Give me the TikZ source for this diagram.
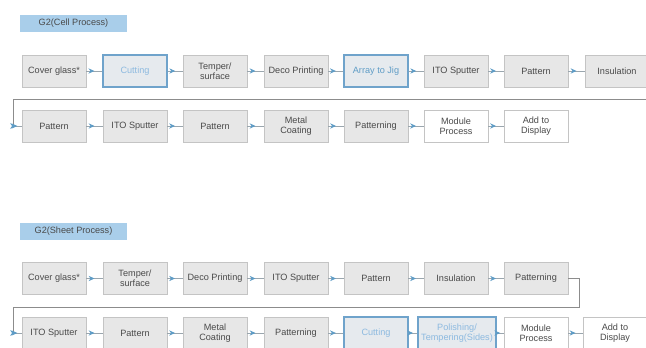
\documentclass[tikz,border=0pt]{standalone}
\usepackage{fontspec}
\setmainfont{Liberation Sans}
\usetikzlibrary{arrows.meta,decorations.markings}
\definecolor{boxgray}{HTML}{E7E7E7}
\definecolor{boxline}{HTML}{C4C4C4}
\definecolor{hiline}{HTML}{6FA3CB}
\definecolor{hifill}{HTML}{E6EAEE}
\definecolor{hitext}{HTML}{8DBAE0}
\definecolor{titlefill}{HTML}{A9CEEA}
\definecolor{textgray}{HTML}{4A4A4A}
\definecolor{linkgray}{HTML}{9AA6AE}
\definecolor{arrowblue}{HTML}{5E9CC6}
\definecolor{backgray}{HTML}{8C8C8C}
\begin{document}
\begin{tikzpicture}[x=0.03cm,y=-0.03cm,
    proc/.style={draw=boxline,fill=boxgray,line width=0.6pt,minimum width=1.92cm,
      minimum height=0.96cm,inner sep=1pt,align=center,
      font=\fontsize{7.8}{8.2}\selectfont,text=textgray},
    wide/.style={minimum width=2.34cm},
    hilite/.style={draw=hiline,fill=hifill,line width=1.2pt,text=hitext},
    plain/.style={fill=white},
    title/.style={fill=titlefill,minimum width=3.2cm,minimum height=0.5cm,inner sep=1pt,
      font=\fontsize{7.8}{8}\selectfont,text=textgray},
    link/.style={draw=linkgray,line width=0.7pt,postaction={decorate},
      decoration={markings,mark=at position 0.5 with
        {\arrow{Stealth[length=5pt,width=4.5pt,color=arrowblue]}}}},
    back/.style={draw=backgray,line width=0.8pt}]
    \useasboundingbox (0,0) rectangle (646,348);

    % cell process
    \node[title] (celltitle) at (73.5,23.5) {G2(Cell Process)};

    \node[proc] (c1a) at (54,71) {Cover glass*};
    \node[proc,hilite] (c1b) at (135,71) {Cutting};
    \node[proc] (c1c) at (215,71) {Temper/\\surface};
    \node[proc] (c1d) at (296,71) {Deco Printing};
    \node[proc,hilite,text=arrowblue] (c1e) at (376,71) {Array to Jig};
    \node[proc] (c1f) at (456,71) {ITO Sputter};
    \node[proc] (c1g) at (536,71) {Pattern};
    \node[proc] (c1h) at (617,71) {Insulation};

    \node[proc] (c2a) at (54,126) {Pattern};
    \node[proc] (c2b) at (135,126) {ITO Sputter};
    \node[proc] (c2c) at (215,126) {Pattern};
    \node[proc] (c2d) at (296,126) {Metal\\Coating};
    \node[proc] (c2e) at (376,126) {Patterning};
    \node[proc,plain] (c2f) at (456,126) {Module\\Process};
    \node[proc,plain] (c2g) at (536,126) {Add to\\Display};

    \draw[link] (c1a) -- (c1b);
    \draw[link] (c1b) -- (c1c);
    \draw[link] (c1c) -- (c1d);
    \draw[link] (c1d) -- (c1e);
    \draw[link] (c1e) -- (c1f);
    \draw[link] (c1f) -- (c1g);
    \draw[link] (c1g) -- (c1h);

    \coordinate (cellret) at (646,99);
    \coordinate (cellturn) at (13,99);
    \coordinate (cellin) at (13,126);
    \draw[back] (cellret) -- (cellturn) -- (cellin);
    \draw[link,decoration={markings,mark=at position 0.35 with
        {\arrow{Stealth[length=5pt,width=4.5pt,color=arrowblue]}}}] (cellin) -- (c2a);

    \draw[link] (c2a) -- (c2b);
    \draw[link] (c2b) -- (c2c);
    \draw[link] (c2c) -- (c2d);
    \draw[link] (c2d) -- (c2e);
    \draw[link] (c2e) -- (c2f);
    \draw[link] (c2f) -- (c2g);

    % sheet process
    \node[title] (sheettitle) at (73.5,231.5) {G2(Sheet Process)};

    \node[proc] (s1a) at (54,278.5) {Cover glass*};
    \node[proc] (s1b) at (135,278.5) {Temper/\\surface};
    \node[proc] (s1c) at (215,278.5) {Deco Printing};
    \node[proc] (s1d) at (296,278.5) {ITO Sputter};
    \node[proc] (s1e) at (376,278.5) {Pattern};
    \node[proc] (s1f) at (456,278.5) {Insulation};
    \node[proc] (s1g) at (536,278.5) {Patterning};

    \node[proc] (s2a) at (54,333) {ITO Sputter};
    \node[proc] (s2b) at (135,333) {Pattern};
    \node[proc] (s2c) at (215,333) {Metal\\Coating};
    \node[proc] (s2d) at (296,333) {Patterning};
    \node[proc,hilite] (s2e) at (376,333) {Cutting};
    \node[proc,hilite,wide] (s2f) at (457,333) {Polishing/\\Tempering(Sides)};
    \node[proc,plain] (s2g) at (536,333) {Module\\Process};
    \node[proc,plain] (s2h) at (615,333) {Add to\\Display};

    \draw[link] (s1a) -- (s1b);
    \draw[link] (s1b) -- (s1c);
    \draw[link] (s1c) -- (s1d);
    \draw[link] (s1d) -- (s1e);
    \draw[link] (s1e) -- (s1f);
    \draw[link] (s1f) -- (s1g);

    \coordinate (sheetout) at (579,278.5);
    \coordinate (sheetturn) at (13,307);
    \coordinate (sheetin) at (13,333);
    \draw[back] (s1g) -- (sheetout) |- (sheetturn) -- (sheetin);
    \draw[link,decoration={markings,mark=at position 0.35 with
        {\arrow{Stealth[length=5pt,width=4.5pt,color=arrowblue]}}}] (sheetin) -- (s2a);

    \draw[link] (s2a) -- (s2b);
    \draw[link] (s2b) -- (s2c);
    \draw[link] (s2c) -- (s2d);
    \draw[link] (s2d) -- (s2e);
    \draw[link] (s2e) -- (s2f);
    \draw[link] (s2f) -- (s2g);
    \draw[link] (s2g) -- (s2h);
\end{tikzpicture}
\end{document}
